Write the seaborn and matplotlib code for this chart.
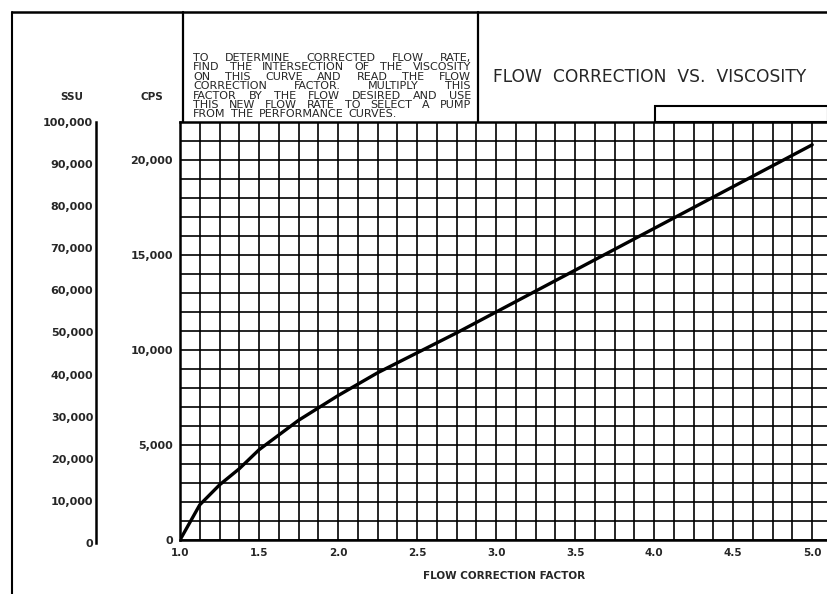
import numpy as np
import pandas as pd
import matplotlib
matplotlib.use('Agg')
import matplotlib.pyplot as plt
import seaborn as sns
from matplotlib.patches import Rectangle
from matplotlib.lines import Line2D

# curve
flow_factor = [1.0, 1.125, 1.25, 1.375, 1.5, 1.75, 2.0, 2.25, 2.5, 2.75,
               3.0, 3.25, 3.5, 3.75, 4.0, 4.25, 4.5, 4.75, 5.0]
viscosity_cps = [0, 1850, 2900, 3750, 4750, 6300, 7600, 8800, 9850, 10900,
                 12000, 13100, 14200, 15300, 16400, 17500, 18600, 19700, 20800]

x_ticks = [1.0, 1.5, 2.0, 2.5, 3.0, 3.5, 4.0, 4.5, 5.0]
cps_ticks = [0, 5000, 10000, 15000, 20000]
ssu_ticks = [0, 10000, 20000, 30000, 40000, 50000, 60000, 70000, 80000, 90000, 100000]

note_lines = ["TO DETERMINE CORRECTED FLOW RATE,",
              "FIND THE INTERSECTION OF THE VISCOSITY",
              "ON THIS CURVE AND READ THE FLOW",
              "CORRECTION FACTOR. MULTIPLY THIS",
              "FACTOR BY THE FLOW DESIRED AND USE",
              "THIS NEW FLOW RATE TO SELECT A PUMP",
              "FROM THE PERFORMANCE CURVES."]

df = pd.DataFrame({'factor': flow_factor, 'cps': viscosity_cps})

sns.set_style('white')
plt.rcParams['font.family'] = ['DejaVu Sans']

W, H = 828, 594
fig = plt.figure(figsize=(W / 100, H / 100), dpi=100)
fig.patch.set_facecolor('white')


def fx(px):
    return px / W


def fy(py):
    return 1 - py / H


# main grid axes
ax = fig.add_axes([fx(180), fy(540), fx(828) - fx(180), fy(122) - fy(540)])
sns.lineplot(data=df, x='factor', y='cps', ax=ax, color='black', lw=2.4)
ax.set_xlim(1.0, 5.1)
ax.set_ylim(0, 22000)
ax.set_xticks(x_ticks)
ax.set_xticklabels([f'{t:.1f}' for t in x_ticks])
ax.set_xticks(np.arange(1.0, 5.11, 0.125), minor=True)
ax.set_yticks(cps_ticks)
ax.set_yticklabels([f'{t:,}' for t in cps_ticks])
ax.set_yticks(np.arange(0, 22001, 1000), minor=True)
ax.grid(which='both', color='black', lw=1.2)
ax.tick_params(axis='x', which='both', length=0, pad=6, labelsize=7.5)
ax.tick_params(axis='y', which='major', length=4, width=1.2, pad=1, labelsize=8)
ax.tick_params(axis='y', which='minor', length=0)
for lab in ax.get_xticklabels() + ax.get_yticklabels():
    lab.set_fontweight('bold')
for side in ['left', 'bottom', 'top']:
    ax.spines[side].set_color('black')
    ax.spines[side].set_linewidth(1.8)
ax.spines['right'].set_visible(False)
ax.set_xlabel('FLOW CORRECTION FACTOR', fontsize=7.5, fontweight='bold', labelpad=9)
ax.set_ylabel('')

# SSU scale
ax2 = fig.add_axes([fx(96), fy(543), 0.001, fy(122) - fy(543)])
ax2.set_facecolor('none')
ax2.set_ylim(0, 100000)
ax2.set_yticks(ssu_ticks)
ax2.set_yticklabels([f'{t:,}' for t in ssu_ticks])
ax2.set_xticks([])
for side in ['right', 'bottom', 'top']:
    ax2.spines[side].set_visible(False)
ax2.spines['left'].set_linewidth(1.8)
ax2.spines['left'].set_color('black')
ax2.tick_params(axis='y', direction='in', length=5, width=1.2, pad=2, labelsize=8)
for lab in ax2.get_yticklabels():
    lab.set_fontweight('bold')

fig.text(fx(72), fy(97), 'SSU', ha='center', va='center', fontsize=7.5, fontweight='bold')
fig.text(fx(152), fy(97), 'CPS', ha='center', va='center', fontsize=7.5, fontweight='bold')

# boxes and frame
fig.add_artist(Line2D([fx(12), fx(12)], [fy(12), fy(594)], color='black', lw=1.5))
fig.add_artist(Line2D([fx(12), fx(828)], [fy(12), fy(12)], color='black', lw=1.8))
fig.add_artist(Line2D([fx(183), fx(183)], [fy(12), fy(122)], color='black', lw=1.6))
fig.add_artist(Line2D([fx(478), fx(478)], [fy(12), fy(122)], color='black', lw=1.6))
fig.add_artist(Rectangle((fx(655), fy(122)), fx(828) - fx(655), fy(106) - fy(122),
                         fill=False, edgecolor='black', lw=1.5, transform=fig.transFigure))

fig.text(fx(650), fy(77), 'FLOW  CORRECTION  VS.  VISCOSITY', ha='center', va='center',
         fontsize=12.3)

# note text, justified word by word like the lettering in the box
fig.canvas.draw()
renderer = fig.canvas.get_renderer()
left, right = 193, 471
for i, line in enumerate(note_lines):
    words = line.split()
    y = fy(58 + i * 9.4)
    texts = [fig.text(0, y, w, ha='left', va='center', fontsize=8.0) for w in words]
    widths = [t.get_window_extent(renderer).width for t in texts]
    if i == len(note_lines) - 1:
        gap = 5.5
    else:
        gap = (right - left - sum(widths)) / (len(words) - 1)
    pos = left
    for t, wdt in zip(texts, widths):
        t.set_x(fx(pos))
        pos += wdt + gap

fig.savefig('out.png', dpi=100)
